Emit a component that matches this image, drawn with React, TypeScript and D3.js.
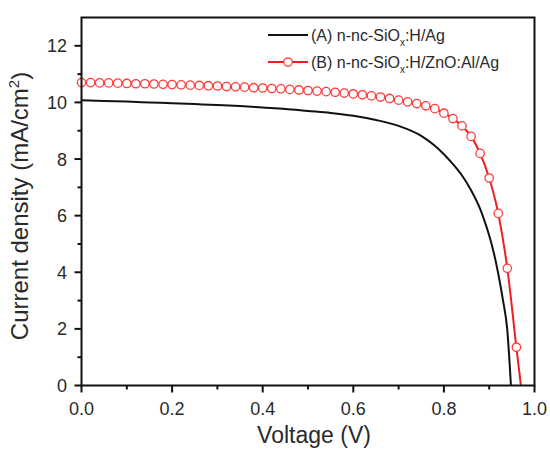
import React from "react";
import * as d3 from "d3";

// J–V characteristics of two n-nc-SiOx:H back-contact variants
const voltageA = [0, 0.05, 0.1, 0.15, 0.2, 0.25, 0.3, 0.35, 0.4, 0.45, 0.5, 0.55, 0.6, 0.65, 0.7, 0.75, 0.78, 0.8, 0.82, 0.84, 0.86, 0.88, 0.89, 0.9, 0.91, 0.92, 0.93, 0.94, 0.948];
const currentA = [10.08, 10.05, 10.03, 10.0, 9.97, 9.94, 9.91, 9.87, 9.82, 9.77, 9.7, 9.63, 9.53, 9.38, 9.17, 8.82, 8.47, 8.17, 7.82, 7.42, 6.9, 6.24, 5.8, 5.3, 4.7, 3.95, 3.05, 1.95, 0];

const voltageB = [
  0, 0.02, 0.04, 0.06, 0.08, 0.1, 0.12, 0.14, 0.16, 0.18, 0.2, 0.22, 0.24, 0.26, 0.28, 0.3, 0.32, 0.34, 0.36, 0.38,
  0.4, 0.42, 0.44, 0.46, 0.48, 0.5, 0.52, 0.54, 0.56, 0.58, 0.6, 0.62, 0.64, 0.66, 0.68, 0.7, 0.72, 0.74, 0.76, 0.78,
  0.8, 0.82, 0.84, 0.86, 0.88, 0.9, 0.92, 0.94, 0.96,
];
const currentB = [
  10.7, 10.7, 10.69, 10.69, 10.68, 10.67, 10.66, 10.66, 10.65, 10.64, 10.63, 10.62, 10.61, 10.6, 10.59, 10.58, 10.56, 10.55, 10.54, 10.52,
  10.51, 10.49, 10.48, 10.46, 10.44, 10.42, 10.4, 10.38, 10.36, 10.33, 10.3, 10.27, 10.23, 10.19, 10.14, 10.08, 10.02, 9.96, 9.88, 9.78,
  9.62, 9.43, 9.17, 8.8, 8.2, 7.33, 6.08, 4.14, 1.35,
];
// open-circuit point of series B (line end, no marker)
const vocB = 0.97;

const xTicks = [0, 0.2, 0.4, 0.6, 0.8, 1.0];
const xMinorTicks = [0.1, 0.3, 0.5, 0.7, 0.9];
const yTicks = [0, 2, 4, 6, 8, 10, 12];
const yMinorTicks = [1, 3, 5, 7, 9, 11];

const W = 550;
const H = 449;
const left = 81.5;
const right = 534.5;
const top = 17.5;
const bottom = 385.5;

const font = "'Liberation Sans', Arial, sans-serif";
const textColor = "#2a2a2a";
const red = "#f01e1e";

export default function App() {
  const x = d3.scaleLinear().domain([0, 1]).range([left, right]);
  const y = d3.scaleLinear().domain([0, 13]).range([bottom, top]);

  const ptsA: [number, number][] = voltageA.map((v, i) => [v, currentA[i]]);
  const ptsB: [number, number][] = voltageB.map((v, i) => [v, currentB[i]]);
  const lineB: [number, number][] = [...ptsB, [vocB, 0]];

  const line = d3
    .line<[number, number]>()
    .x((d) => x(d[0]))
    .y((d) => y(d[1]))
    .curve(d3.curveMonotoneX);

  return (
    <svg width={W} height={H} style={{ position: "absolute", left: 0, top: 0, background: "#fff" }}>
      <rect x={0} y={0} width={W} height={H} fill="#fff" />

      {/* curves */}
      <path d={line(ptsA) ?? ""} fill="none" stroke="#111" strokeWidth={2} />
      <path d={line(lineB) ?? ""} fill="none" stroke={red} strokeWidth={2} />
      {ptsB.map((d, i) => (
        <circle key={i} cx={x(d[0])} cy={y(d[1])} r={4.2} fill="#fff" stroke="#ff3a3a" strokeWidth={1.3} />
      ))}

      {/* frame */}
      <rect x={left} y={top} width={right - left} height={bottom - top} fill="none" stroke="#111" strokeWidth={2} />

      {/* x ticks */}
      {xTicks.map((t) => (
        <g key={"xt" + t}>
          <line x1={x(t)} x2={x(t)} y1={bottom} y2={bottom + 7} stroke="#111" strokeWidth={2} />
          <text x={x(t)} y={415} textAnchor="middle" fontFamily={font} fontSize={18} fill={textColor}>
            {d3.format(".1f")(t)}
          </text>
        </g>
      ))}
      {xMinorTicks.map((t) => (
        <line key={"xm" + t} x1={x(t)} x2={x(t)} y1={bottom} y2={bottom + 4} stroke="#111" strokeWidth={2} />
      ))}

      {/* y ticks */}
      {yTicks.map((t) => (
        <g key={"yt" + t}>
          <line x1={left - 7} x2={left} y1={y(t)} y2={y(t)} stroke="#111" strokeWidth={2} />
          <text x={67} y={y(t) + 6.5} textAnchor="end" fontFamily={font} fontSize={18} fill={textColor}>
            {t}
          </text>
        </g>
      ))}
      {yMinorTicks.map((t) => (
        <line key={"ym" + t} x1={left - 4} x2={left} y1={y(t)} y2={y(t)} stroke="#111" strokeWidth={2} />
      ))}

      {/* axis titles */}
      <text x={314} y={443} textAnchor="middle" fontFamily={font} fontSize={23} fill={textColor}>
        Voltage (V)
      </text>
      <text
        transform={`translate(28, 206) rotate(-90)`}
        textAnchor="middle"
        fontFamily={font}
        fontSize={24}
        fill={textColor}
      >
        Current density (mA/cm
        <tspan dy={-9} fontSize={15}>2</tspan>
        <tspan dy={9}>)</tspan>
      </text>

      {/* legend */}
      <g fontFamily={font} fontSize={16} fill={textColor}>
        <line x1={268} x2={308} y1={35} y2={35} stroke="#111" strokeWidth={2} />
        <text x={311} y={41}>
          (A) n-nc-SiO
          <tspan dy={5} fontSize={10}>x</tspan>
          <tspan dy={-5}>:H/Ag</tspan>
        </text>
        <line x1={268} x2={308} y1={62} y2={62} stroke={red} strokeWidth={2} />
        <circle cx={288} cy={62} r={4.2} fill="#fff" stroke="#ff3a3a" strokeWidth={1.3} />
        <text x={311} y={68}>
          (B) n-nc-SiO
          <tspan dy={5} fontSize={10}>x</tspan>
          <tspan dy={-5}>:H/ZnO:Al/Ag</tspan>
        </text>
      </g>
    </svg>
  );
}
